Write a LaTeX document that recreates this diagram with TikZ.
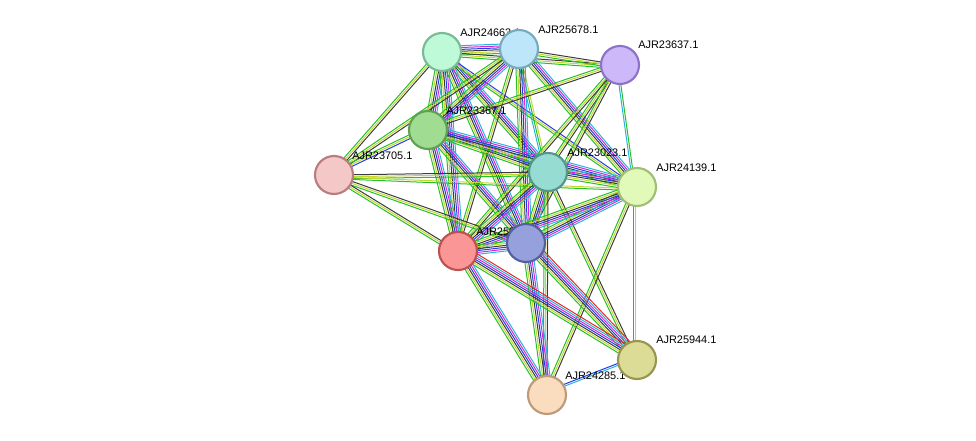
\documentclass[tikz,border=0pt]{standalone}
\usepackage{fontspec}
\setmainfont{Liberation Sans}
\usetikzlibrary{calc}
\definecolor{eGreen}{RGB}{40,190,40}
\definecolor{eYellow}{RGB}{195,215,50}
\definecolor{eDark}{RGB}{60,60,60}
\definecolor{eBlue}{RGB}{40,60,230}
\definecolor{eMagenta}{RGB}{210,40,210}
\definecolor{eCyan}{RGB}{40,180,220}
\definecolor{eRed}{RGB}{230,40,40}
\tikzset{
  prot/.style={circle,draw,line width=1.6pt,minimum size=28.5pt,inner sep=0pt},
  plabel/.style={font=\fontsize{8.2}{9}\selectfont,inner sep=0pt,anchor=south west},
  eline/.style={line width=0.75pt}
}
\newcommand{\full}{eGreen,eYellow,eDark,eBlue,eMagenta,eCyan}
\newcommand{\light}{eGreen,eYellow,eDark}
% draw a bundle of parallel lines between two centres
\newcommand{\bundle}[3]{%
  \edef\blist{#3}%
  \foreach \c [count=\i] in \blist{%
    \draw[eline,\c] ($(#1)!{(\i-3)*1.4pt}!90:(#2)$) -- ($(#2)!{(\i-3)*1.4pt}!-90:(#1)$);
  }}
\begin{document}
\begin{tikzpicture}[x=0.75pt,y=-0.75pt]
\useasboundingbox (0,0) rectangle (976,441);
% centres
\coordinate (c24663) at (442,52);
\coordinate (c25678) at (519,49);
\coordinate (c23637) at (620,65);
\coordinate (c23367) at (428,130);
\coordinate (c23705) at (334,175);
\coordinate (c23023) at (548,172);
\coordinate (c24139) at (637,187);
\coordinate (c25071) at (526,243);
\coordinate (c25red) at (458,251);
\coordinate (c25944) at (637,360);
\coordinate (c24285) at (547,395);
% edges
\bundle{c24663}{c25678}{\full}
\bundle{c24663}{c23637}{\light}
\bundle{c24663}{c23367}{\full}
\bundle{c24663}{c23705}{\light}
\bundle{c24663}{c23023}{\full}
\bundle{c24663}{c24139}{eGreen,eYellow,eBlue}
\bundle{c24663}{c25071}{\full}
\bundle{c24663}{c25red}{\full}
\bundle{c25678}{c23637}{\light}
\bundle{c25678}{c23367}{\full}
\bundle{c25678}{c23705}{\light}
\bundle{c25678}{c23023}{eCyan,eGreen,eYellow}
\bundle{c25678}{c24139}{\full}
\bundle{c25678}{c25071}{\full}
\bundle{c25678}{c25red}{\light}
\bundle{c23637}{c23367}{\light}
\bundle{c23637}{c23023}{\light}
\bundle{c23637}{c24139}{eCyan,eGreen}
\bundle{c23637}{c25071}{\light}
\bundle{c23637}{c25red}{\light}
\bundle{c23367}{c23705}{eGreen,eYellow,eBlue}
\bundle{c23367}{c23023}{\full}
\bundle{c23367}{c24139}{\full}
\bundle{c23367}{c25071}{\full}
\bundle{c23367}{c25red}{\full}
\bundle{c23705}{c23023}{\light}
\bundle{c23705}{c24139}{eGreen,eYellow}
\bundle{c23705}{c25071}{\light}
\bundle{c23705}{c25red}{\light}
\bundle{c23023}{c24139}{\full}
\bundle{c23023}{c25071}{\full}
\bundle{c23023}{c25red}{\full}
\bundle{c23023}{c25944}{\light}
\bundle{c23023}{c24285}{\light}
\bundle{c24139}{c25071}{\full}
\bundle{c24139}{c25red}{\full}
\bundle{c24139}{c25944}{eGreen,eYellow}
\bundle{c24139}{c24285}{\light}
\bundle{c25071}{c25red}{\full}
\bundle{c25071}{c25944}{\full,eRed}
\bundle{c25071}{c24285}{\full}
\bundle{c25red}{c25944}{\full,eRed}
\bundle{c25red}{c24285}{\full}
\bundle{c25944}{c24285}{eBlue,eCyan}
% labels
\node[plabel] at (460,37) {AJR24663.1};
\node[plabel] at (538,34) {AJR25678.1};
\node[plabel] at (638,49) {AJR23637.1};
\node[plabel] at (446,115) {AJR23367.1};
\node[plabel] at (352,160) {AJR23705.1};
\node[plabel] at (567,157) {AJR23023.1};
\node[plabel] at (656,172) {AJR24139.1};
\node[plabel] at (476,236) {AJR25060.1};
\node[plabel] at (656,344) {AJR25944.1};
\node[plabel] at (565,380) {AJR24285.1};
% proteins
\node[prot,fill={rgb,255:red,190;green,250;blue,215},draw={rgb,255:red,120;green,185;blue,150}] (n24663) at (c24663) {};
\node[prot,fill={rgb,255:red,190;green,230;blue,250},draw={rgb,255:red,120;green,170;blue,190}] (n25678) at (c25678) {};
\node[prot,fill={rgb,255:red,205;green,185;blue,250},draw={rgb,255:red,140;green,115;blue,200}] (n23637) at (c23637) {};
\node[prot,fill={rgb,255:red,160;green,220;blue,145},draw={rgb,255:red,95;green,160;blue,85}] (n23367) at (c23367) {};
\node[prot,fill={rgb,255:red,245;green,200;blue,200},draw={rgb,255:red,185;green,125;blue,125}] (n23705) at (c23705) {};
\node[prot,fill={rgb,255:red,150;green,220;blue,210},draw={rgb,255:red,85;green,150;blue,140}] (n23023) at (c23023) {};
\node[prot,fill={rgb,255:red,225;green,250;blue,185},draw={rgb,255:red,160;green,190;blue,120}] (n24139) at (c24139) {};
\node[prot,fill={rgb,255:red,250;green,150;blue,150},draw={rgb,255:red,190;green,80;blue,80}] (n25red) at (c25red) {};
\node[prot,fill={rgb,255:red,150;green,160;blue,220},draw={rgb,255:red,85;green,95;blue,160}] (n25071) at (c25071) {};
\node[prot,fill={rgb,255:red,220;green,220;blue,150},draw={rgb,255:red,150;green,150;blue,80}] (n25944) at (c25944) {};
\node[prot,fill={rgb,255:red,250;green,220;blue,190},draw={rgb,255:red,190;green,155;blue,120}] (n24285) at (c24285) {};
\end{tikzpicture}
\end{document}
